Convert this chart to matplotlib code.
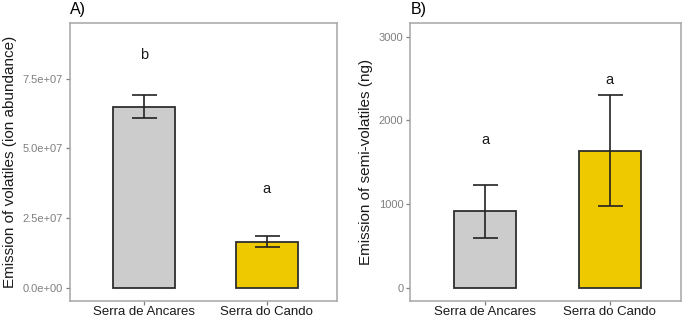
import matplotlib.pyplot as plt
from matplotlib.ticker import FixedLocator

plt.rcParams['font.family'] = ['Liberation Sans', 'DejaVu Sans']

# data
sites = ['Serra de Ancares', 'Serra do Cando']
bar_colors = ['#cccccc', '#eec900']

volatiles = [6.5e7, 1.66e7]
volatiles_lo = [6.09e7, 1.48e7]
volatiles_hi = [6.9e7, 1.85e7]
volatiles_letters = ['b', 'a']
volatiles_letter_y = [8.36e7, 3.53e7]
volatiles_ticks = [0, 2.5e7, 5.0e7, 7.5e7]
volatiles_ticklabels = ['0.0e+00', '2.5e+07', '5.0e+07', '7.5e+07']

semi = [916, 1639]
semi_lo = [600, 980]
semi_hi = [1232, 2302]
semi_letters = ['a', 'a']
semi_letter_y = [1770, 2488]
semi_ticks = [0, 1000, 2000, 3000]
semi_ticklabels = ['0', '1000', '2000', '3000']

edge = '#2e2e2e'
frame = '#a6a6a6'
tickcol = '#7f7f7f'


def panel(ax, vals, lo, hi, letters, letter_y, ticks, ticklabels, ylim, ylabel, tag):
    x = [1, 2]
    ax.bar(x, vals, width=0.5, color=bar_colors, edgecolor=edge, linewidth=1.3, zorder=2)
    yerr = [[v - l for v, l in zip(vals, lo)], [h - v for v, h in zip(vals, hi)]]
    ax.errorbar(x, vals, yerr=yerr, fmt='none', ecolor='#222222', elinewidth=1.2,
                capsize=9, capthick=1.2, zorder=3)
    for xi, t, yi in zip(x, letters, letter_y):
        ax.text(xi, yi, t, ha='center', va='center', fontsize=10.5, color='#1a1a1a')
    ax.set_xlim(0.4, 2.57)
    ax.set_ylim(*ylim)
    ax.set_xticks(x)
    ax.set_xticklabels(sites, fontsize=9.5, color='#1a1a1a')
    ax.yaxis.set_major_locator(FixedLocator(ticks))
    ax.set_yticklabels(ticklabels, fontsize=8, color=tickcol)
    ax.set_ylabel(ylabel, fontsize=11, color='#1a1a1a', labelpad=4)
    for s in ax.spines.values():
        s.set_color(frame)
        s.set_linewidth(1.1)
    ax.tick_params(axis='both', color=tickcol, length=3, width=0.9, pad=2)
    ax.tick_params(axis='x', pad=0.5)
    ax.text(0.0, 1.02, tag, transform=ax.transAxes, ha='left', va='bottom', fontsize=11.5)


fig = plt.figure(figsize=(6.85, 3.2), dpi=100)
ax1 = fig.add_axes([0.102, 0.06, 0.39, 0.868])
ax2 = fig.add_axes([0.599, 0.06, 0.395, 0.868])

panel(ax1, volatiles, volatiles_lo, volatiles_hi, volatiles_letters, volatiles_letter_y,
      volatiles_ticks, volatiles_ticklabels, (-0.46e7, 9.49e7),
      'Emission of volatiles (ion abundance)', 'A)')
panel(ax2, semi, semi_lo, semi_hi, semi_letters, semi_letter_y,
      semi_ticks, semi_ticklabels, (-154, 3163),
      'Emission of semi-volatiles (ng)', 'B)')

fig.savefig('out.png', dpi=100)
